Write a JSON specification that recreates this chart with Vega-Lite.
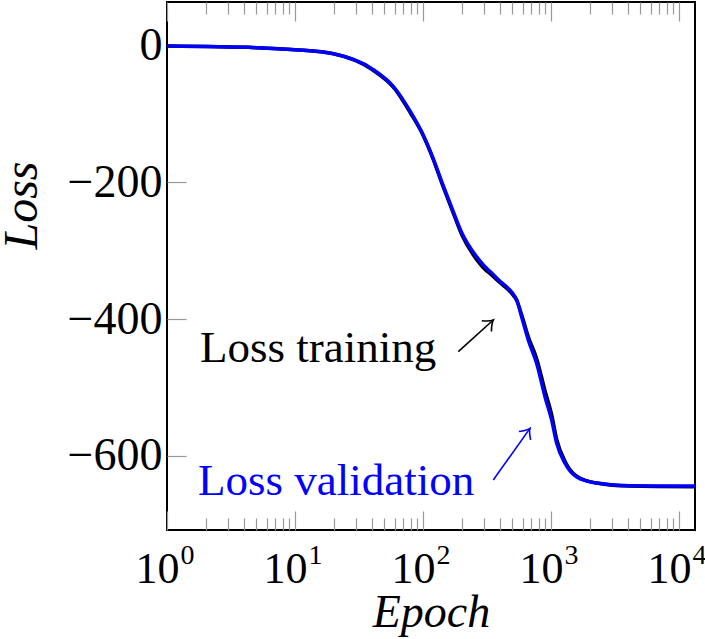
{
  "$schema": "https://vega.github.io/schema/vega-lite/v6.json",
  "width": 528,
  "height": 528,
  "autosize": "none",
  "padding": {"left": 167, "top": 2, "right": 10, "bottom": 109},
  "background": "white",
  "config": {
    "view": {"stroke": "black", "strokeWidth": 2},
    "font": "Liberation Serif",
    "axis": {"grid": false, "domain": false}
  },
  "datasets": {
    "curves": [
      {"series": "training", "epoch": 1, "loss": -0.6},
      {"series": "training", "epoch": 5, "loss": -3},
      {"series": "training", "epoch": 10, "loss": -6},
      {"series": "training", "epoch": 20, "loss": -12},
      {"series": "training", "epoch": 40, "loss": -35},
      {"series": "training", "epoch": 60, "loss": -63},
      {"series": "training", "epoch": 80, "loss": -99},
      {"series": "training", "epoch": 100, "loss": -131},
      {"series": "training", "epoch": 120, "loss": -166},
      {"series": "training", "epoch": 140, "loss": -201},
      {"series": "training", "epoch": 170, "loss": -242},
      {"series": "training", "epoch": 200, "loss": -276},
      {"series": "training", "epoch": 260, "loss": -312},
      {"series": "training", "epoch": 300, "loss": -326},
      {"series": "training", "epoch": 350, "loss": -337},
      {"series": "training", "epoch": 400, "loss": -347},
      {"series": "training", "epoch": 450, "loss": -355},
      {"series": "training", "epoch": 500, "loss": -364},
      {"series": "training", "epoch": 540, "loss": -373},
      {"series": "training", "epoch": 590, "loss": -394},
      {"series": "training", "epoch": 665, "loss": -426},
      {"series": "training", "epoch": 773, "loss": -458},
      {"series": "training", "epoch": 898, "loss": -505},
      {"series": "training", "epoch": 1012, "loss": -540},
      {"series": "training", "epoch": 1108, "loss": -576},
      {"series": "training", "epoch": 1286, "loss": -608},
      {"series": "training", "epoch": 1588, "loss": -630},
      {"series": "training", "epoch": 2276, "loss": -640},
      {"series": "training", "epoch": 4140, "loss": -644.5},
      {"series": "training", "epoch": 13335, "loss": -645.5},
      {"series": "validation", "epoch": 1, "loss": -0.6},
      {"series": "validation", "epoch": 5, "loss": -3},
      {"series": "validation", "epoch": 10, "loss": -6},
      {"series": "validation", "epoch": 20, "loss": -12},
      {"series": "validation", "epoch": 40, "loss": -34},
      {"series": "validation", "epoch": 60, "loss": -62},
      {"series": "validation", "epoch": 80, "loss": -97},
      {"series": "validation", "epoch": 100, "loss": -130},
      {"series": "validation", "epoch": 120, "loss": -165},
      {"series": "validation", "epoch": 140, "loss": -199},
      {"series": "validation", "epoch": 170, "loss": -240},
      {"series": "validation", "epoch": 200, "loss": -273},
      {"series": "validation", "epoch": 260, "loss": -308},
      {"series": "validation", "epoch": 300, "loss": -322},
      {"series": "validation", "epoch": 350, "loss": -334},
      {"series": "validation", "epoch": 400, "loss": -345},
      {"series": "validation", "epoch": 450, "loss": -353},
      {"series": "validation", "epoch": 500, "loss": -362},
      {"series": "validation", "epoch": 540, "loss": -372},
      {"series": "validation", "epoch": 590, "loss": -397},
      {"series": "validation", "epoch": 665, "loss": -431},
      {"series": "validation", "epoch": 773, "loss": -465},
      {"series": "validation", "epoch": 898, "loss": -514},
      {"series": "validation", "epoch": 1012, "loss": -548},
      {"series": "validation", "epoch": 1108, "loss": -582},
      {"series": "validation", "epoch": 1286, "loss": -611},
      {"series": "validation", "epoch": 1588, "loss": -631},
      {"series": "validation", "epoch": 2276, "loss": -640},
      {"series": "validation", "epoch": 4140, "loss": -644},
      {"series": "validation", "epoch": 13335, "loss": -644.3}
    ],
    "notes": [
      {"series": "training", "epoch": 1.81, "loss": -463, "text": "Loss training"},
      {"series": "validation", "epoch": 1.75, "loss": -657.6, "text": "Loss validation"}
    ],
    "arrows": [
      {"series": "training", "epoch": 188.7, "loss": -447.8, "epoch2": 354, "loss2": -401.5},
      {"series": "validation", "epoch": 354, "loss": -635.5, "epoch2": 685, "loss2": -560}
    ]
  },
  "resolve": {"axis": {"x": "independent", "y": "independent"}},
  "layer": [
    {
      "data": {"name": "curves"},
      "transform": [{"filter": "datum.series == 'training'"}],
      "mark": {"type": "line", "strokeWidth": 3.5, "strokeJoin": "round", "color": "black", "interpolate": "monotone"},
      "encoding": {
        "x": {
          "field": "epoch", "type": "quantitative",
          "scale": {"type": "log", "domain": [1, 13335], "nice": false},
          "axis": {
            "orient": "bottom",
            "values": [1, 10, 100, 1000, 10000],
            "ticks": false,
            "labelExpr": "'10'",
            "labelFont": "Liberation Serif",
            "labelFontSize": 44,
            "labelColor": "black",
            "labelBaseline": "alphabetic",
            "labelAlign": "center",
            "labelPadding": 52,
            "labelOffset": -10,
            "labelFlush": false,
            "labelOverlap": false,
            "title": "Epoch",
            "titleFont": "Liberation Serif",
            "titleFontSize": 46,
            "titleFontStyle": "italic",
            "titleFontWeight": "normal",
            "titleColor": "black",
            "titleBaseline": "alphabetic",
            "titleY": 96
          }
        },
        "y": {
          "field": "loss", "type": "quantitative",
          "scale": {"domain": [-708.7, 63.8], "nice": false, "zero": false},
          "axis": {
            "orient": "left",
            "values": [-600, -400, -200, 0],
            "ticks": false,
            "labelFont": "Liberation Serif",
            "labelFontSize": 46,
            "labelColor": "black",
            "labelPadding": 5,
            "labelBaseline": "middle",
            "title": "Loss",
            "titleFont": "Liberation Serif",
            "titleFontSize": 48,
            "titleFontStyle": "italic",
            "titleFontWeight": "normal",
            "titleColor": "black",
            "titleAngle": 270,
            "titleAlign": "center",
            "titleBaseline": "alphabetic",
            "titleX": -131,
            "titleY": 203
          }
        }
      }
    },
    {
      "data": {"name": "curves"},
      "transform": [{"filter": "datum.series == 'validation'"}],
      "mark": {"type": "line", "strokeWidth": 3.5, "strokeJoin": "round", "color": "#0000ff", "interpolate": "monotone"},
      "encoding": {
        "x": {
          "field": "epoch", "type": "quantitative",
          "scale": {"type": "log", "domain": [1, 13335], "nice": false},
          "axis": {
            "orient": "bottom",
            "values": [1,2,3,4,5,6,7,8,9,10,20,30,40,50,60,70,80,90,100,200,300,400,500,600,700,800,900,1000,2000,3000,4000,5000,6000,7000,8000,9000,10000],
            "labels": false,
            "title": null,
            "tickColor": "#999999",
            "tickWidth": 1.2,
            "tickSize": {"condition": {"test": "indexof([1,10,100,1000,10000], datum.value) >= 0", "value": -19}, "value": -12}
          }
        },
        "y": {
          "field": "loss", "type": "quantitative",
          "scale": {"domain": [-708.7, 63.8], "nice": false, "zero": false},
          "axis": {
            "orient": "left",
            "values": [-600, -400, -200, 0],
            "labels": false,
            "title": null,
            "tickColor": "#999999",
            "tickWidth": 1.2,
            "tickSize": -19
          }
        }
      }
    },
    {
      "data": {"name": "notes"},
      "mark": {"type": "text", "align": "left", "baseline": "alphabetic", "font": "Liberation Serif", "fontSize": 45},
      "encoding": {
        "x": {
          "field": "epoch", "type": "quantitative",
          "scale": {"type": "log", "domain": [1, 13335], "nice": false},
          "axis": {
            "orient": "top",
            "values": [1,2,3,4,5,6,7,8,9,10,20,30,40,50,60,70,80,90,100,200,300,400,500,600,700,800,900,1000,2000,3000,4000,5000,6000,7000,8000,9000,10000],
            "labels": false,
            "title": null,
            "tickColor": "#999999",
            "tickWidth": 1.2,
            "tickSize": {"condition": {"test": "indexof([1,10,100,1000,10000], datum.value) >= 0", "value": -19}, "value": -12}
          }
        },
        "y": {
          "field": "loss", "type": "quantitative",
          "scale": {"domain": [-708.7, 63.8], "nice": false, "zero": false},
          "axis": null
        },
        "text": {"field": "text"},
        "color": {"field": "series", "type": "nominal", "scale": {"domain": ["training", "validation"], "range": ["black", "#0000ff"]}, "legend": null}
      }
    },
    {
      "data": {"name": "arrows"},
      "mark": {"type": "rule", "strokeWidth": 1.6},
      "encoding": {
        "x": {
          "field": "epoch", "type": "quantitative",
          "scale": {"type": "log", "domain": [1, 13335], "nice": false},
          "axis": {
            "orient": "bottom",
            "values": [1, 10, 100, 1000, 10000],
            "ticks": false,
            "labelExpr": "'' + round(log(datum.value)/LN10)",
            "labelFont": "Liberation Serif",
            "labelFontSize": 28,
            "labelColor": "black",
            "labelBaseline": "alphabetic",
            "labelAlign": "center",
            "labelPadding": 33,
            "labelOffset": 20,
            "labelFlush": false,
            "labelOverlap": false,
            "title": null
          }
        },
        "y": {"field": "loss", "type": "quantitative", "scale": {"domain": [-708.7, 63.8], "nice": false, "zero": false}, "axis": null},
        "x2": {"field": "epoch2"},
        "y2": {"field": "loss2"},
        "color": {"field": "series", "type": "nominal", "scale": {"domain": ["training", "validation"], "range": ["black", "#0000ff"]}, "legend": null}
      }
    },
    {
      "data": {"name": "arrows"},
      "transform": [{"filter": "datum.series == 'training'"}],
      "mark": {"type": "point", "filled": false, "shape": "M-1,-0.8 Q-0.4,-0.15 0,0 Q-0.4,0.15 -1,0.8", "size": 324, "angle": 317.8, "strokeWidth": 1.6, "stroke": "black", "opacity": 1},
      "encoding": {
        "x": {"field": "epoch2", "type": "quantitative", "scale": {"type": "log", "domain": [1, 13335], "nice": false}, "axis": null},
        "y": {"field": "loss2", "type": "quantitative", "scale": {"domain": [-708.7, 63.8], "nice": false, "zero": false}, "axis": null}
      }
    },
    {
      "data": {"name": "arrows"},
      "transform": [{"filter": "datum.series == 'validation'"}],
      "mark": {"type": "point", "filled": false, "shape": "M-1,-0.8 Q-0.4,-0.15 0,0 Q-0.4,0.15 -1,0.8", "size": 324, "angle": 305.4, "strokeWidth": 1.6, "stroke": "#0000ff", "opacity": 1},
      "encoding": {
        "x": {"field": "epoch2", "type": "quantitative", "scale": {"type": "log", "domain": [1, 13335], "nice": false}, "axis": null},
        "y": {"field": "loss2", "type": "quantitative", "scale": {"domain": [-708.7, 63.8], "nice": false, "zero": false}, "axis": null}
      }
    }
  ]
}
